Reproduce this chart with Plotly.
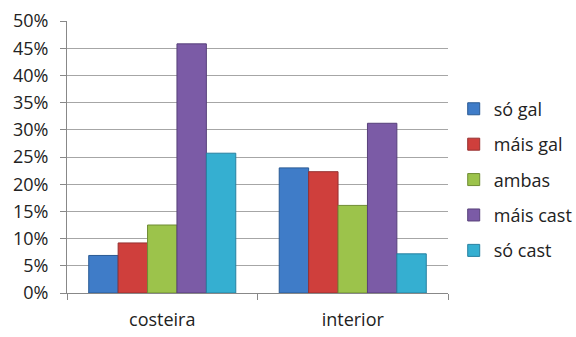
import plotly.graph_objects as go

categories = ["costeira", "interior"]
series_names = ["só gal", "máis gal", "ambas", "máis cast", "só cast"]
so_gal = [0.069, 0.230]
mais_gal = [0.092, 0.223]
ambas = [0.125, 0.161]
mais_cast = [0.458, 0.312]
so_cast = [0.257, 0.072]
y_ticks = [0, 0.05, 0.10, 0.15, 0.20, 0.25, 0.30, 0.35, 0.40, 0.45, 0.50]

fills = ["#3f7cc8", "#cf3f3c", "#9cc34b", "#7b5ba6", "#35afd1"]
edges = ["#2a5a94", "#963030", "#6f8c34", "#57407a", "#2780a0"]

fig = go.Figure()
for name, vals, fc, ec in zip(series_names, [so_gal, mais_gal, ambas, mais_cast, so_cast], fills, edges):
    fig.add_trace(go.Bar(
        x=categories, y=vals, name=name, legendgroup=name,
        marker=dict(color=fc, line=dict(color=ec, width=1)),
    ))

font_family = "Open Sans, Noto Sans, sans-serif"
fig.update_layout(
    width=576, height=337,
    margin=dict(l=67, r=128, t=21, b=44, autoexpand=False),
    paper_bgcolor="white", plot_bgcolor="white",
    barmode="group", bargap=0.228, bargroupgap=0,
    font=dict(family=font_family, size=18, color="#222222"),
    showlegend=True,
    legend=dict(x=1.015, xanchor="left", y=0.417, yanchor="middle",
                font=dict(size=18), tracegroupgap=9, traceorder="grouped",
                itemwidth=30),
    xaxis=dict(showline=True, linecolor="#888888", linewidth=1,
               ticks="outside", tickson="boundaries", ticklen=6, tickcolor="#888888",
               showgrid=False, tickfont=dict(size=18), ticklabelstandoff=10,
               automargin=False),
    yaxis=dict(range=[0, 0.5], tickvals=y_ticks, tickformat=".0%",
               showline=True, linecolor="#888888", linewidth=1,
               ticks="outside", ticklen=6, tickcolor="#888888",
               showgrid=True, gridcolor="#a6a6a6", gridwidth=1,
               zeroline=False, tickfont=dict(size=18), ticklabelstandoff=8,
               automargin=False),
)

fig.write_html("out.html")
